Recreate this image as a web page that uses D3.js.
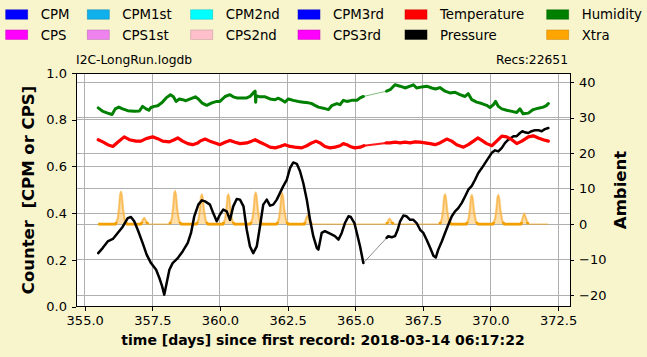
<!DOCTYPE html>
<html><head><meta charset="utf-8">
<script src="https://cdn.jsdelivr.net/npm/d3@7"></script>
<style>
body{margin:0;background:#F8F4CC}
svg{display:block}
text{font-family:"DejaVu Sans",sans-serif;fill:#000}
</style>
</head><body>
<svg id="chart" width="647" height="357"></svg>
<script>
// ---------- data ----------
const legendNames = [["CPM","CPS"],["CPM1st","CPS1st"],["CPM2nd","CPS2nd"],["CPM3rd","CPS3rd"],["Temperature","Pressure"],["Humidity","Xtra"]];
const legendColors = [["#0000FF","#FF00FF"],["#10B0EC","#EE82EE"],["#00FFFF","#FFC0CB"],["#0000FF","#FF00FF"],["#FF0000","#000000"],["#008000","#FFA500"]];

const xTicks = [355.0, 357.5, 360.0, 362.5, 365.0, 367.5, 370.0, 372.5];
const counterTicks = [0.0, 0.2, 0.4, 0.6, 0.8, 1.0];
const ambientTicks = [-20, -10, 0, 10, 20, 30, 40];
const xDomain = [354.678, 372.94];
const counterDomain = [0, 1];
const ambientDomain = [-23.30, 42.62];

const fileName = "I2C-LongRun.logdb";
const recsText = "Recs:22651";
const xLabel = "time [days] since first record: 2018-03-14 06:17:22";
const yLeftLabel = "Counter  [CPM or CPS]";
const yRightLabel = "Ambient";

const humidity = [
[355.50,32.8],[355.67,31.8],[355.85,31.3],[356.01,30.9],[356.13,32.5],[356.26,33.0],[356.40,32.5],[356.59,32.0],
[356.83,31.8],[357.02,31.9],[357.14,33.2],[357.27,32.5],[357.37,32.1],[357.45,32.9],[357.57,33.2],[357.70,33.4],
[357.86,34.3],[358.01,35.6],[358.17,36.5],[358.28,35.9],[358.38,34.6],[358.50,35.3],[358.62,35.1],[358.74,34.8],
[358.93,35.4],[359.09,35.9],[359.20,35.3],[359.33,34.2],[359.51,33.5],[359.70,34.2],[359.88,34.6],[360.00,34.6],
[360.19,36.0],[360.37,36.5],[360.49,35.9],[360.62,35.6],[360.80,35.6],[360.99,35.6],[361.11,36.0],[361.23,37.0],
[361.30,37.5],[361.32,34.4],[361.34,36.2],[361.48,35.9],[361.67,35.9],[361.85,35.3],[362.04,35.1],[362.16,35.5],
[362.31,34.9],[362.40,34.4],[362.53,35.3],[362.71,34.9],[362.90,34.6],[363.08,34.4],[363.27,34.2],[363.39,34.0],
[363.51,33.5],[363.64,33.0],[363.82,32.7],[364.01,32.3],[364.13,33.4],[364.32,34.0],[364.44,33.7],[364.56,34.9],
[364.69,34.6],[364.87,34.9],[365.06,34.9],[365.18,35.6],[365.30,36.0],
[366.16,37.5],[366.29,37.9],[366.47,39.3],[366.66,38.9],[366.84,38.4],[367.03,38.9],[367.15,39.3],[367.27,38.4],
[367.46,38.7],[367.64,38.9],[367.83,38.4],[367.97,38.1],[368.13,38.5],[368.32,37.5],[368.50,37.0],[368.69,37.2],
[368.87,36.5],[369.06,36.0],[369.18,36.8],[369.31,35.1],[369.49,34.4],[369.68,34.0],[369.86,33.5],[369.98,32.9],
[370.11,33.7],[370.19,34.6],[370.29,33.2],[370.42,32.5],[370.60,32.1],[370.79,31.8],[370.97,31.5],[371.09,32.5],
[371.21,31.1],[371.40,31.3],[371.58,32.3],[371.77,32.7],[371.95,33.0],[372.08,33.5],[372.14,34.0]
];

const temperature = [
[355.50,23.8],[355.67,23.2],[355.85,22.4],[356.04,21.9],[356.22,23.1],[356.46,24.6],[356.65,23.8],[356.90,23.4],
[357.08,23.4],[357.27,24.1],[357.51,24.6],[357.70,24.1],[357.88,23.4],[358.13,23.2],[358.31,23.8],[358.44,24.3],
[358.62,23.4],[358.81,22.7],[358.99,22.4],[359.18,22.9],[359.26,23.4],[359.45,24.0],[359.63,23.4],[359.82,22.9],
[360.00,22.4],[360.19,23.1],[360.37,23.6],[360.56,23.1],[360.74,22.7],[360.99,22.9],[361.17,23.4],[361.30,23.8],
[361.48,23.1],[361.67,22.4],[361.85,21.7],[362.04,21.5],[362.22,21.9],[362.40,22.4],[362.59,21.9],[362.77,21.7],
[363.02,21.5],[363.21,22.1],[363.39,22.9],[363.55,23.4],[363.70,22.9],[363.88,21.9],[364.07,21.5],[364.25,21.7],
[364.44,22.1],[364.56,22.7],[364.69,22.4],[364.81,21.9],[364.99,21.5],[365.18,21.7],[365.32,22.1],
[366.14,22.9],[366.29,22.9],[366.47,23.1],[366.66,22.9],[366.84,23.1],[367.03,22.9],[367.21,23.2],[367.40,23.1],
[367.58,22.9],[367.77,22.7],[367.95,22.4],[368.13,22.9],[368.38,24.0],[368.57,23.4],[368.75,22.4],[369.00,21.7],
[369.18,22.4],[369.37,23.4],[369.53,24.3],[369.68,23.6],[369.86,22.7],[370.05,22.1],[370.23,23.4],[370.42,24.8],
[370.60,24.6],[370.79,23.8],[370.97,22.7],[371.16,23.4],[371.40,24.6],[371.58,24.9],[371.77,24.3],[371.95,23.8],
[372.14,23.4]
];

const pressure = [
[355.50,-8.2],[355.67,-6.7],[355.85,-4.9],[356.04,-4.2],[356.22,-2.5],[356.40,-0.8],[356.59,1.7],[356.71,2.0],
[356.83,0.8],[356.96,-1.6],[357.14,-5.3],[357.29,-8.6],[357.45,-11.0],[357.64,-12.9],[357.76,-15.2],[357.86,-17.5],
[357.94,-19.9],[358.03,-16.6],[358.13,-12.9],[358.25,-11.0],[358.44,-9.6],[358.62,-7.7],[358.81,-5.3],[358.93,-2.5],
[359.05,2.2],[359.20,5.5],[359.33,6.7],[359.45,6.4],[359.63,5.5],[359.75,3.1],[359.88,0.8],[360.00,2.7],
[360.12,4.1],[360.25,3.6],[360.37,1.2],[360.49,5.0],[360.62,7.1],[360.74,6.9],[360.87,5.0],[360.99,-1.6],
[361.11,-6.3],[361.23,-8.2],[361.36,-6.3],[361.48,-0.6],[361.60,5.5],[361.73,6.9],[361.85,5.2],[361.97,5.5],
[362.10,6.9],[362.22,8.8],[362.34,10.7],[362.47,12.5],[362.59,15.8],[362.71,17.4],[362.84,17.0],[362.96,14.9],
[363.08,11.6],[363.21,6.9],[363.33,1.2],[363.45,-3.4],[363.58,-6.7],[363.64,-7.2],[363.76,-2.5],[363.88,-2.0],
[364.07,-2.7],[364.25,-3.4],[364.38,-4.4],[364.50,-2.5],[364.62,0.3],[364.75,2.2],[364.84,2.0],[364.97,0.3],
[365.06,-2.5],[365.18,-6.3],[365.30,-11.0],
[366.16,-3.9],[366.22,-3.4],[366.35,-3.7],[366.47,-3.4],[366.57,-1.6],[366.66,0.8],[366.78,2.4],[366.90,2.2],
[367.03,1.2],[367.15,1.2],[367.27,0.3],[367.40,-1.6],[367.52,-2.5],[367.64,-4.4],[367.77,-6.7],[367.89,-8.9],
[367.98,-9.4],[368.07,-7.2],[368.20,-4.9],[368.32,-2.5],[368.44,-0.2],[368.57,2.2],[368.69,3.6],[368.81,4.5],
[368.94,6.0],[369.06,7.8],[369.18,9.7],[369.31,10.8],[369.43,12.5],[369.55,14.4],[369.68,15.8],[369.80,17.2],
[369.92,18.6],[370.05,20.1],[370.17,20.8],[370.29,20.5],[370.42,21.5],[370.54,22.9],[370.66,23.8],[370.85,24.8],
[370.97,24.8],[371.09,25.7],[371.18,26.2],[371.27,25.9],[371.40,25.7],[371.52,26.2],[371.65,26.5],[371.77,26.5],
[371.89,26.2],[372.01,26.8],[372.14,27.1]
];

const xtra = [
[355.50,0],
[356.14,0],[356.22,1.5],[356.27,4.5],[356.31,8.4],[356.34,9.0],[356.37,8.2],[356.42,4.0],[356.48,1.2],[356.56,0],
[357.08,0],[357.15,1.2],[357.20,1.7],[357.26,1.0],[357.34,0],
[358.14,0],[358.22,1.5],[358.27,4.6],[358.31,8.6],[358.34,9.2],[358.37,8.4],[358.42,4.1],[358.48,1.2],[358.56,0],
[359.13,0],[359.21,1.4],[359.26,4.2],[359.30,7.7],[359.33,8.3],[359.36,7.5],[359.41,3.8],[359.47,1.1],[359.55,0],
[360.11,0],[360.19,1.4],[360.24,4.2],[360.28,7.7],[360.31,8.3],[360.34,7.5],[360.39,3.8],[360.45,1.1],[360.53,0],
[361.12,0],[361.20,1.5],[361.25,4.4],[361.29,8.2],[361.32,8.8],[361.35,8.0],[361.40,4.0],[361.46,1.2],[361.54,0],
[362.10,0],[362.18,1.5],[362.23,4.3],[362.27,8.0],[362.30,8.6],[362.33,7.8],[362.38,3.9],[362.44,1.2],[362.52,0],
[363.12,0],[363.19,1.7],[363.24,2.4],[363.30,1.4],[363.38,0],
[365.30,0],
[366.16,0],[366.22,1.0],[366.27,1.5],[366.33,0.9],[366.41,0],
[368.12,0],[368.20,1.4],[368.25,4.2],[368.29,7.7],[368.32,8.3],[368.35,7.5],[368.40,3.8],[368.46,1.1],[368.54,0],
[369.11,0],[369.19,1.4],[369.24,4.1],[369.28,7.5],[369.31,8.1],[369.34,7.3],[369.39,3.7],[369.45,1.1],[369.53,0],
[370.09,0],[370.17,1.4],[370.22,4.1],[370.26,7.5],[370.29,8.1],[370.32,7.3],[370.37,3.7],[370.43,1.1],[370.51,0],
[371.13,0],[371.20,2.0],[371.25,2.9],[371.31,1.7],[371.39,0],
[372.14,0]
];

// ---------- layout ----------
const L = 76, R = 570, T = 73, B = 306.7;
const svg = d3.select("#chart");
const x = d3.scaleLinear().domain(xDomain).range([L, R]);
const yL = d3.scaleLinear().domain(counterDomain).range([B, T]);
const yR = d3.scaleLinear().domain(ambientDomain).range([B, T]);

svg.append("rect").attr("x", L).attr("y", T).attr("width", R - L).attr("height", B - T).attr("fill", "#fff");

const grid = svg.append("g").attr("stroke", "#b0b0b0").attr("stroke-width", 1).attr("shape-rendering", "crispEdges");
grid.selectAll(".vx").data(xTicks).join("line").attr("x1", d => x(d)).attr("x2", d => x(d)).attr("y1", T).attr("y2", B);
grid.selectAll(".hl").data(counterTicks).join("line").attr("x1", L).attr("x2", R).attr("y1", d => yL(d)).attr("y2", d => yL(d));
grid.selectAll(".hr").data(ambientTicks).join("line").attr("x1", L).attr("x2", R).attr("y1", d => yR(d)).attr("y2", d => yR(d));

const defs = svg.append("defs");
defs.append("clipPath").attr("id", "clip").append("rect").attr("x", L).attr("y", T).attr("width", R - L).attr("height", B - T);
// band around the Xtra zero level, where the dense baseline points pile up
defs.append("clipPath").attr("id", "base").append("rect").attr("x", L).attr("y", yR(0) - 2).attr("width", R - L).attr("height", 4);
const plot = svg.append("g").attr("clip-path", "url(#clip)");

function splitGaps(data, maxGap) {
  const segs = []; let cur = [];
  data.forEach((p, i) => {
    if (i > 0 && p[0] - data[i - 1][0] > maxGap) { segs.push(cur); cur = []; }
    cur.push(p);
  });
  segs.push(cur);
  return segs;
}
const line = d3.line().x(d => x(d[0])).y(d => yR(d[1]));
const area = d3.area().x(d => x(d[0])).y0(yR(0)).y1(d => yR(d[1]));

function drawSeries(data, color, thinW, thinOp, thickW) {
  plot.append("path").attr("d", line(data)).attr("fill", "none").attr("stroke", color)
    .attr("stroke-width", thinW).attr("stroke-opacity", thinOp);
  splitGaps(data, 0.5).forEach(seg => {
    plot.append("path").attr("d", line(seg)).attr("fill", "none").attr("stroke", color)
      .attr("stroke-width", thickW).attr("stroke-linejoin", "round").attr("stroke-linecap", "round");
  });
}

// Xtra
plot.append("path").attr("d", area(xtra)).attr("fill", "#FFB030").attr("fill-opacity", 0.4);
plot.append("path").attr("d", line(xtra)).attr("fill", "none").attr("stroke", "#F5A200").attr("stroke-width", 1.2).attr("stroke-opacity", 0.6);
splitGaps(xtra, 0.7).forEach(seg => {
  plot.append("path").attr("d", line(seg)).attr("fill", "none").attr("stroke", "#F7B650")
    .attr("stroke-width", 2.4).attr("stroke-opacity", 0.55).attr("stroke-linejoin", "round");
  plot.append("g").attr("clip-path", "url(#base)").append("path").attr("d", line(seg)).attr("fill", "none")
    .attr("stroke", "#F2A000").attr("stroke-width", 2.8).attr("stroke-linejoin", "round");
});
drawSeries(pressure, "#000000", 1, 0.45, 2.5);
drawSeries(temperature, "#FF0000", 2, 0.9, 3.2);
drawSeries(humidity, "#008000", 1, 0.5, 3.0);

svg.append("rect").attr("x", L).attr("y", T).attr("width", R - L).attr("height", B - T)
  .attr("fill", "none").attr("stroke", "#000").attr("stroke-width", 1).attr("shape-rendering", "crispEdges");

function styleAxis(g) {
  g.select(".domain").remove();
  g.selectAll("text").attr("font-size", "13px").attr("font-family", "DejaVu Sans").attr("fill", "#000");
  g.selectAll("line").attr("stroke", "#000").attr("shape-rendering", "crispEdges");
}
svg.append("g").attr("transform", `translate(0,${B})`)
  .call(d3.axisBottom(x).tickValues(xTicks).tickFormat(d3.format(".1f")).tickSize(4).tickPadding(5).tickSizeOuter(0))
  .call(styleAxis);
svg.append("g").attr("transform", `translate(${L},0)`)
  .call(d3.axisLeft(yL).tickValues(counterTicks).tickFormat(d3.format(".1f")).tickSize(4).tickPadding(5).tickSizeOuter(0))
  .call(styleAxis);
svg.append("g").attr("transform", `translate(${R},0)`)
  .call(d3.axisRight(yR).tickValues(ambientTicks).tickFormat(d3.format("d")).tickSize(4).tickPadding(5).tickSizeOuter(0))
  .call(styleAxis);

svg.append("text").attr("x", (L + R) / 2).attr("y", 345).attr("text-anchor", "middle")
  .attr("font-size", "14px").attr("font-weight", "bold").text(xLabel);
svg.append("text").attr("transform", "translate(34,190) rotate(-90)").attr("text-anchor", "middle")
  .attr("font-size", "16.5px").attr("font-weight", "bold").style("white-space", "pre").text(yLeftLabel);
svg.append("text").attr("transform", "translate(626,190) rotate(-90)").attr("text-anchor", "middle")
  .attr("font-size", "16.5px").attr("font-weight", "bold").text(yRightLabel);
svg.append("text").attr("x", L).attr("y", 64.3).attr("font-size", "12.3px").text(fileName);
svg.append("text").attr("x", 568).attr("y", 64.3).attr("text-anchor", "end").attr("font-size", "12.3px").text(recsText);

const colPatchX = [5.7, 87.3, 190.7, 298, 405, 546.7];
const rowCY = [14.5, 34.7];
const leg = svg.append("g");
legendNames.forEach((col, ci) => {
  col.forEach((name, ri) => {
    const c = legendColors[ci][ri];
    leg.append("rect").attr("x", colPatchX[ci]).attr("y", rowCY[ri] - 4.7).attr("width", 22).attr("height", 9.4)
      .attr("fill", c).attr("stroke", d3.color(c).darker(0.8)).attr("stroke-width", 0.8).attr("stroke-opacity", 0.6);
    leg.append("text").attr("x", colPatchX[ci] + 35).attr("y", rowCY[ri] + 4.8)
      .attr("font-size", "13.3px").text(name);
  });
});
</script>
</body></html>
